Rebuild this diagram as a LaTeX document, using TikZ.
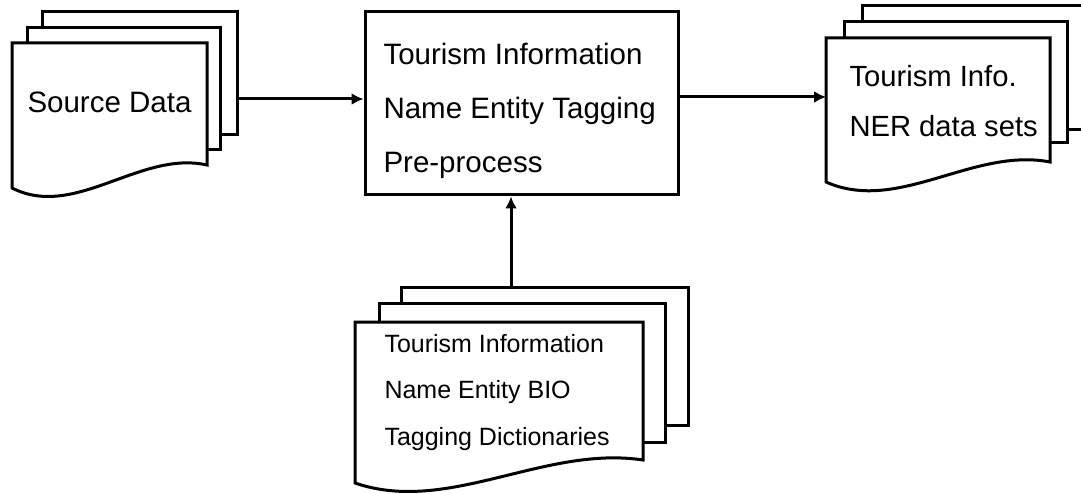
\documentclass[tikz,border=0pt]{standalone}
\usepackage{fontspec}
\setmainfont{Liberation Sans}
\usetikzlibrary{arrows.meta}

\begin{document}
\begin{tikzpicture}[x=1pt,y=-1pt,line width=3pt,
    page/.style={draw, fill=white, inner sep=0pt},
    txt/.style={inner sep=0pt, align=left, font=\fontsize{29.5}{54}\selectfont},
    arr/.style={-{Latex[length=12pt,width=12pt]}}]
  \useasboundingbox (0,0) rectangle (1081,494);
  \clip (0,0) rectangle (1081,494);

  % Source data stack
  \node[page, minimum width=195pt, minimum height=123pt] (srcC) at (139.5,73.5) {};
  \node[page, minimum width=193pt, minimum height=122pt] (srcB) at (123.5,89) {};
  \draw[fill=white] (12,43) -- (207,43) -- (207,165) .. controls (140,150) and (75,220) .. (12,188) -- cycle;
  \node[txt, anchor=base] (srctxt) at (109.5,113) {Source Data};

  % Pre-process box (base = last line)
  \node[page, minimum width=313pt, minimum height=183pt] (proc) at (521.5,103.5) {};
  \node[txt, anchor=base west] (proctxt) at (382,173) {Tourism Information\\Name Entity Tagging\\Pre-process};

  % NER data sets stack (runs off the right edge)
  \node[page, minimum width=223pt, minimum height=124pt] (nerC) at (973.5,68) {};
  \node[page, minimum width=223pt, minimum height=121pt] (nerB) at (955.5,82.5) {};
  \draw[fill=white] (826,38) -- (1050,38) -- (1050,162) .. controls (973,147) and (898,214) .. (826,182) -- cycle;
  \coordinate (nerA) at (826,38);
  \node[txt, anchor=base west, font=\fontsize{29.2}{50}\selectfont] (nertxt) at (848,137) {Tourism Info.\\NER data sets};

  % BIO dictionaries stack
  \node[page, minimum width=287pt, minimum height=138pt] (dicC) at (544.5,356) {};
  \node[page, minimum width=286pt, minimum height=139pt] (dicB) at (522,372.5) {};
  \draw[fill=white] (355,322) -- (643,322) -- (643,460) .. controls (544,445) and (448,515) .. (355,483) -- cycle;
  \node[txt, anchor=base west, font=\fontsize{25}{46.5}\selectfont] (dictxt) at (383,445) {Tourism Information\\Name Entity BIO\\Tagging Dictionaries};

  % connectors
  \coordinate (lvlA) at (0,99);
  \coordinate (lvlB) at (0,97);
  \coordinate (colA) at (511,0);
  \draw[arr] (srcC.east |- lvlA) -- (proc.west |- lvlA);
  \draw[arr] (proc.east |- lvlB) -- (nerA |- lvlB);
  \draw[arr] (dicC.north -| colA) -- (proc.south -| colA);

\end{tikzpicture}
\end{document}
